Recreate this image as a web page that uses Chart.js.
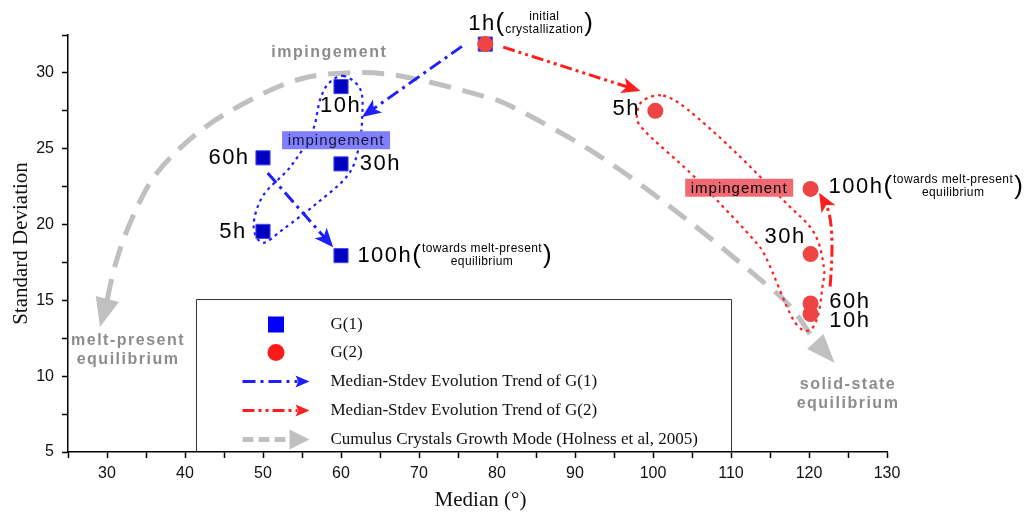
<!DOCTYPE html>
<html>
<head>
<meta charset="utf-8">
<script src="https://cdn.jsdelivr.net/npm/chart.js@4.4.1/dist/chart.umd.min.js"></script>
<style>
  body { margin: 0; background: #fff; }
  #wrap { width: 1033px; height: 518px; }
</style>
</head>
<body>
<div id="wrap"><canvas id="c" width="1033" height="518"></canvas></div>
<script>
// time steps
const hours = ['1h', '5h', '10h', '30h', '60h', '100h'];

// G(1) grains
const g1Median = [78.5, 50, 60, 60, 50, 60];
const g1Stdev = [31.9, 19.55, 29.1, 24.0, 24.4, 17.95];

// G(2) grains
const g2Median = [78.5, 100.3, 120.2, 120.2, 120.2, 120.2];
const g2Stdev = [31.9, 27.5, 14.1, 18.05, 14.8, 22.35];

// axis labels
const xTickLabels = [30, 40, 50, 60, 70, 80, 90, 100, 110, 120, 130];
const yTickLabels = [5, 10, 15, 20, 25, 30];

const legendNames = ['G(1)', 'G(2)',
  'Median-Stdev Evolution Trend of G(1)',
  'Median-Stdev Evolution Trend of G(2)',
  'Cumulus Crystals Growth Mode (Holness et al, 2005)'];

// where the hour tags sit (data units)
const g1TagPos = [[76.3, 33.25], [44.4, 19.5], [57.3, 27.8], [62.4, 24.0], [43.0, 24.4], [62.1, 17.95]];
const g2TagPos = [null, [94.8, 27.6], [122.6, 13.66], [114.3, 19.2], [122.6, 14.87], [122.5, 22.5]];

// hand drawn guides (data units)
const growthArc = [[30, 15.0], [31.2, 17.6], [33.3, 20.5], [36.4, 23.4], [42, 26.2], [48.7, 28.3], [54.8, 29.6],
  [60.8, 30], [67.6, 29.8], [78, 28.5], [82.6, 27.6], [93.2, 24.5], [103.9, 20.5], [113.7, 16.4],
  [117.6, 14.6], [120.6, 12.4]];
const blueLoop = [[60.3, 29.8], [62.5, 28.9], [62.7, 26.9], [62.2, 24.9], [60.8, 23.2], [56.9, 21.4], [52.6, 19.7],
  [50, 18.8], [48.8, 19.9], [50, 21.9], [53.5, 23.8], [56.3, 26.1], [57.3, 28.2], [58.4, 29.3]];
const redLoop = [[101.3, 28.5], [104.4, 27.6], [110.3, 24.9], [116.7, 21.6], [120.6, 19.5], [121.9, 17.2],
  [121.7, 15.8], [121.1, 13.9], [119.9, 13.0], [117.9, 13.8], [114.6, 17.7], [112.9, 19.0], [108.2, 21.6],
  [104.8, 23.4], [98.7, 26.3], [98, 27.4], [98.8, 28.2]];

const SANS = "'Liberation Sans', Arial, sans-serif";
const SERIF = "'Liberation Serif', 'Times New Roman', serif";
const BLUE = 'rgb(30,30,255)';
const RED = 'rgb(255,30,30)';
const GREY = 'rgb(192,192,192)';

function smooth(ctx, pts, closed) {
  const n = pts.length;
  ctx.moveTo(pts[0][0], pts[0][1]);
  const segs = closed ? n : n - 1;
  for (let i = 0; i < segs; i++) {
    const p0 = closed ? pts[(i - 1 + n) % n] : pts[Math.max(i - 1, 0)];
    const p1 = pts[i];
    const p2 = pts[(i + 1) % n];
    const p3 = closed ? pts[(i + 2) % n] : pts[Math.min(i + 2, n - 1)];
    ctx.bezierCurveTo(p1[0] + (p2[0] - p0[0]) / 6, p1[1] + (p2[1] - p0[1]) / 6,
      p2[0] - (p3[0] - p1[0]) / 6, p2[1] - (p3[1] - p1[1]) / 6, p2[0], p2[1]);
  }
  if (closed) ctx.closePath();
}

// stealth arrow head
function head(ctx, tip, ang, len, hw, color, notch) {
  const c = Math.cos(ang), s = Math.sin(ang);
  const bx = tip[0] - c * len, by = tip[1] - s * len;
  ctx.save();
  ctx.setLineDash([]);
  ctx.fillStyle = color;
  ctx.beginPath();
  ctx.moveTo(tip[0], tip[1]);
  ctx.lineTo(bx - s * hw, by + c * hw);
  ctx.lineTo(tip[0] - c * len * notch, tip[1] - s * len * notch);
  ctx.lineTo(bx + s * hw, by - c * hw);
  ctx.closePath();
  ctx.fill();
  ctx.restore();
}

function straightArrow(ctx, a, b, color, dash, width) {
  const ang = Math.atan2(b[1] - a[1], b[0] - a[0]);
  const len = 19;
  ctx.save();
  ctx.strokeStyle = color;
  ctx.lineWidth = width;
  ctx.setLineDash(dash);
  ctx.beginPath();
  ctx.moveTo(a[0], a[1]);
  ctx.lineTo(b[0] - Math.cos(ang) * len * 0.7, b[1] - Math.sin(ang) * len * 0.7);
  ctx.stroke();
  ctx.restore();
  head(ctx, b, ang, len, 8, color, 0.75);
}

function tag(ctx, x, y, main, subs) {
  ctx.save();
  ctx.fillStyle = '#000';
  ctx.textBaseline = 'middle';
  ctx.textAlign = 'left';
  ctx.font = '22px ' + SANS;
  ctx.letterSpacing = '1.5px';
  ctx.fillText(main, x, y);
  let w = ctx.measureText(main).width;
  if (subs) {
    ctx.letterSpacing = '0px';
    ctx.font = '26px ' + SANS;
    const px = x + w;
    ctx.fillText('(', px, y);
    const bx = px + ctx.measureText('(').width + 1;
    ctx.font = '12px ' + SANS;
    ctx.letterSpacing = '0.4px';
    const bw = Math.max(...subs.map(t => ctx.measureText(t).width));
    ctx.textAlign = 'center';
    ctx.fillText(subs[0], bx + bw / 2, y - 7);
    ctx.fillText(subs[1], bx + bw / 2, y + 6);
    ctx.textAlign = 'left';
    ctx.letterSpacing = '0px';
    ctx.font = '26px ' + SANS;
    ctx.fillText(')', bx + bw + 1, y);
  }
  ctx.restore();
}

function greyNote(ctx, x, y, lines) {
  ctx.save();
  ctx.fillStyle = 'rgb(140,140,140)';
  ctx.font = 'bold 16px ' + SANS;
  ctx.letterSpacing = '1.5px';
  ctx.textAlign = 'center';
  ctx.textBaseline = 'middle';
  lines.forEach((t, i) => ctx.fillText(t, x, y + i * 19));
  ctx.restore();
}

function boxNote(ctx, cx, cy, fill, ink) {
  ctx.save();
  ctx.fillStyle = fill;
  ctx.fillRect(cx - 54, cy - 9, 108, 18);
  ctx.fillStyle = ink;
  ctx.font = '15px ' + SANS;
  ctx.letterSpacing = '1px';
  ctx.textAlign = 'center';
  ctx.textBaseline = 'middle';
  ctx.fillText('impingement', cx, cy + 1);
  ctx.restore();
}

const guides = {
  id: 'guides',
  beforeDatasetsDraw(chart) {
    const ctx = chart.ctx;
    const X = v => chart.scales.x.getPixelForValue(v);
    const Y = v => chart.scales.y.getPixelForValue(v);
    const P = p => [X(p[0]), Y(p[1])];

    // grey growth arc
    const arc = growthArc.map(P);
    ctx.save();
    ctx.strokeStyle = GREY;
    ctx.lineWidth = 5;
    ctx.setLineDash([22, 12]);
    ctx.beginPath();
    smooth(ctx, arc, false);
    ctx.stroke();
    ctx.restore();
    const lt = P([29.1, 13.24]), lb = arc[0];
    head(ctx, lt, Math.atan2(lt[1] - lb[1], lt[0] - lb[0]), 29, 12, GREY, 1);
    const rt = P([123.3, 10.87]), rb = arc[arc.length - 1];
    head(ctx, rt, Math.atan2(rt[1] - rb[1], rt[0] - rb[0]), 29, 11, GREY, 1);

    // dotted loops
    ctx.save();
    ctx.lineWidth = 2.2;
    ctx.setLineDash([3, 4]);
    ctx.strokeStyle = BLUE;
    ctx.beginPath();
    smooth(ctx, blueLoop.map(P), true);
    ctx.stroke();
    ctx.strokeStyle = RED;
    ctx.beginPath();
    smooth(ctx, redLoop.map(P), true);
    ctx.stroke();
    ctx.restore();

    // evolution arrows
    straightArrow(ctx, P([75.5, 31.75]), P([62.7, 27.1]), BLUE, [13, 5, 3, 5], 3);
    straightArrow(ctx, P([50.6, 23.4]), P([59, 18.5]), BLUE, [13, 5, 3, 5], 3);
    straightArrow(ctx, P([80.8, 31.7]), P([98.4, 28.8]), RED, [12, 4, 3, 4, 3, 4], 3);

    // curved red arrow
    const s = P([122.7, 15.9]), c = P([123.4, 20.2]), t = P([121.3, 22.1]);
    const ang = Math.atan2(t[1] - c[1], t[0] - c[0]);
    ctx.save();
    ctx.strokeStyle = RED;
    ctx.lineWidth = 3;
    ctx.setLineDash([12, 4, 3, 4, 3, 4]);
    ctx.beginPath();
    ctx.moveTo(s[0], s[1]);
    ctx.quadraticCurveTo(c[0], c[1], t[0] - Math.cos(ang) * 13, t[1] - Math.sin(ang) * 13);
    ctx.stroke();
    ctx.restore();
    head(ctx, t, ang, 19, 8, RED, 0.75);
  },
  afterDatasetsDraw(chart) {
    const ctx = chart.ctx;
    const X = v => chart.scales.x.getPixelForValue(v);
    const Y = v => chart.scales.y.getPixelForValue(v);
    const subs = { '1h': ['initial', 'crystallization'], '100h': ['towards melt-present', 'equilibrium'] };

    g1TagPos.forEach((p, i) => { if (p) tag(ctx, X(p[0]), Y(p[1]), hours[i], subs[hours[i]]); });
    g2TagPos.forEach((p, i) => { if (p) tag(ctx, X(p[0]), Y(p[1]), hours[i], subs[hours[i]]); });

    greyNote(ctx, X(58.5), Y(31.34), ['impingement']);
    greyNote(ctx, X(32.7), Y(12.36), ['melt-present', 'equilibrium']);
    greyNote(ctx, X(125.0), Y(9.44), ['solid-state', 'equilibrium']);
    boxNote(ctx, X(59.37), Y(25.56), 'rgb(128,128,255)', 'rgb(20,20,50)');
    boxNote(ctx, X(111.05), Y(22.43), 'rgb(240,106,116)', '#000');
  },
  afterDraw(chart) {
    const ctx = chart.ctx;
    const X = v => chart.scales.x.getPixelForValue(v);
    const Y = v => chart.scales.y.getPixelForValue(v);

    // legend box
    const l = Math.round(X(41.4)) + 0.5, r = Math.round(X(110)) + 0.5, t = Math.round(Y(15.1)) + 0.5, b = Y(5);
    ctx.save();
    ctx.strokeStyle = '#333';
    ctx.lineWidth = 1;
    ctx.beginPath();
    ctx.moveTo(l, b);
    ctx.lineTo(l, t);
    ctx.lineTo(r, t);
    ctx.lineTo(r, b);
    ctx.stroke();

    const rows = [25, 53, 82, 111, 140].map(d => t + d);
    const sx = l + 79.5;
    ctx.fillStyle = 'rgb(0,0,255)';
    ctx.fillRect(sx - 8, rows[0] - 8, 16, 16);
    ctx.fillStyle = 'rgb(255,26,26)';
    ctx.beginPath();
    ctx.arc(sx, rows[1], 8.5, 0, Math.PI * 2);
    ctx.fill();

    const x0 = l + 46, x1 = l + 113;
    [[BLUE, [13, 5, 3, 5]], [RED, [12, 4, 3, 4, 3, 4]]].forEach((d, k) => {
      const y = rows[2 + k];
      ctx.strokeStyle = d[0];
      ctx.lineWidth = 3;
      ctx.setLineDash(d[1]);
      ctx.beginPath();
      ctx.moveTo(x0, y);
      ctx.lineTo(x1 - 12, y);
      ctx.stroke();
      head(ctx, [x1, y], 0, 14, 6, d[0], 0.8);
    });
    ctx.strokeStyle = GREY;
    ctx.lineWidth = 5;
    ctx.setLineDash([11, 5]);
    ctx.beginPath();
    ctx.moveTo(x0, rows[4]);
    ctx.lineTo(x1 - 17, rows[4]);
    ctx.stroke();
    head(ctx, [x1, rows[4]], 0, 20, 10, GREY, 1);

    ctx.setLineDash([]);
    ctx.fillStyle = '#111';
    ctx.font = '17px ' + SERIF;
    ctx.textBaseline = 'middle';
    ctx.textAlign = 'left';
    legendNames.forEach((n, i) => ctx.fillText(n, l + 134, rows[i]));

    // axis titles
    ctx.font = '21px ' + SERIF;
    ctx.textAlign = 'center';
    ctx.textBaseline = 'alphabetic';
    ctx.fillText('Median (\u00b0)', (chart.chartArea.left + chart.chartArea.right) / 2 + 3, 506);
    ctx.translate(27, (chart.chartArea.top + chart.chartArea.bottom) / 2);
    ctx.rotate(-Math.PI / 2);
    ctx.fillText('Standard Deviation', 0, 0);
    ctx.restore();
  }
};

const toPts = (xs, ys) => xs.map((x, i) => ({ x: x, y: ys[i] }));

new Chart(document.getElementById('c'), {
  type: 'scatter',
  data: {
    datasets: [{
      label: 'G(2)',
      data: toPts(g2Median, g2Stdev),
      pointStyle: 'circle',
      pointRadius: 8,
      backgroundColor: 'rgb(238,68,68)',
      borderColor: 'rgb(238,68,68)',
      borderWidth: 0,
      order: 0
    }, {
      label: 'G(1)',
      data: toPts(g1Median, g1Stdev),
      pointStyle: 'rect',
      pointRadius: 10,
      backgroundColor: 'rgb(0,0,192)',
      borderColor: 'rgb(70,70,255)',
      borderWidth: 1,
      order: 1
    }]
  },
  options: {
    responsive: false,
    animation: false,
    layout: { padding: { top: 35, right: 146, left: 0, bottom: 0 } },
    plugins: { legend: { display: false }, tooltip: { enabled: false } },
    scales: {
      x: {
        type: 'linear',
        min: 25,
        max: 130,
        afterFit: s => { s.height = 66; },
        ticks: {
          stepSize: 5,
          autoSkip: false,
          maxRotation: 0,
          padding: 6,
          color: '#111',
          font: { family: SANS, size: 16 },
          callback: v => xTickLabels.includes(v) ? String(v) : ''
        },
        grid: { drawOnChartArea: false, tickLength: 6, color: '#000', tickWidth: 1.5 },
        border: { color: '#000', width: 1.5 }
      },
      y: {
        min: 5,
        max: 32.5,
        afterFit: s => { s.width = 68; },
        ticks: {
          stepSize: 2.5,
          autoSkip: false,
          padding: 8,
          color: '#111',
          font: { family: SANS, size: 16 },
          callback: v => yTickLabels.includes(v) ? String(v) : ''
        },
        grid: { drawOnChartArea: false, tickLength: 6, color: '#000', tickWidth: 1.5 },
        border: { color: '#000', width: 1.5 }
      }
    }
  },
  plugins: [guides]
});
</script>
</body>
</html>
